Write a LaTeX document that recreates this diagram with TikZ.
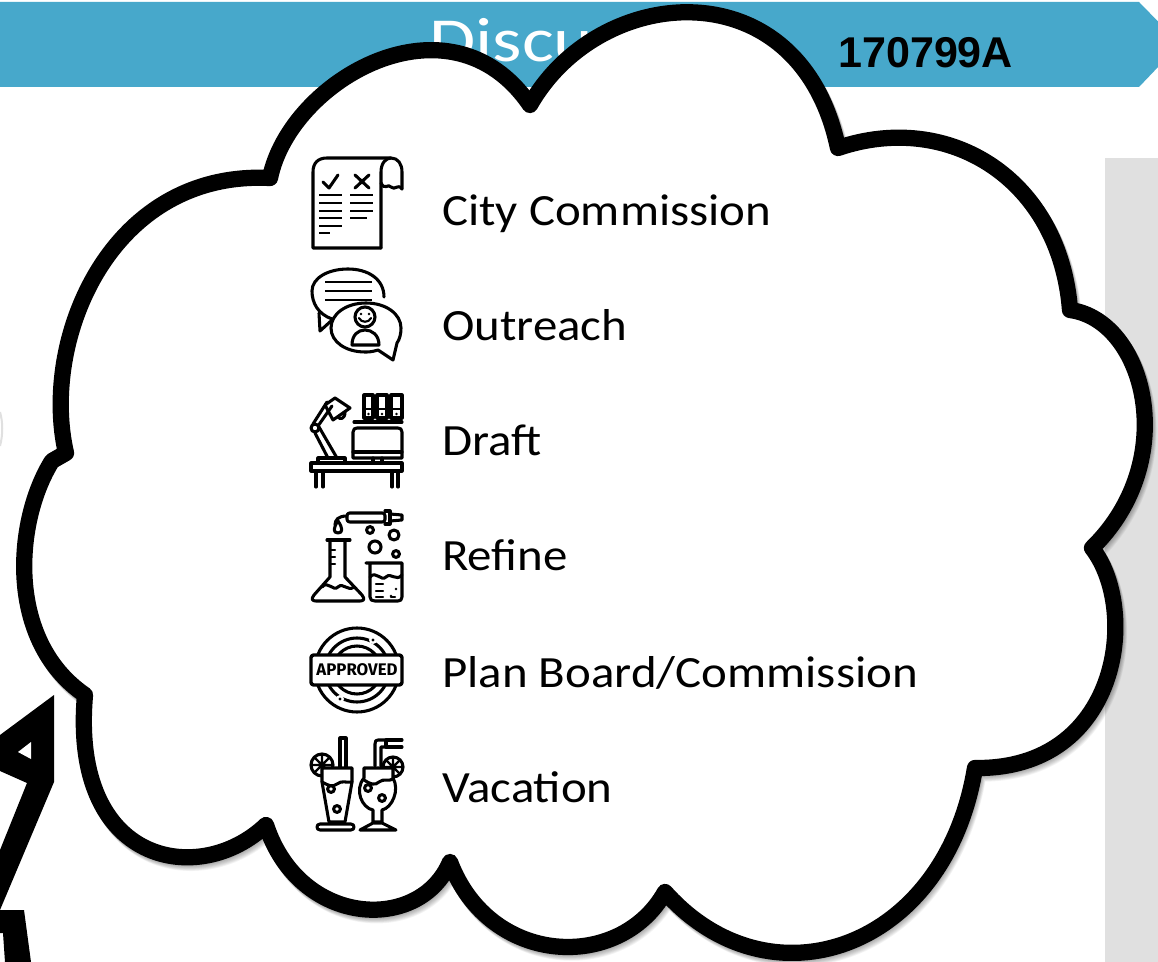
\documentclass[tikz,border=0pt]{standalone}
\usepackage{fontspec}
\setmainfont{Carlito}
\newfontfamily\labf[FakeStretch=1.095]{Carlito}
\newfontfamily\headf[FakeStretch=1.2]{Carlito}
\newfontfamily\arialf{Liberation Sans}
\newfontfamily\stampf{Fira Sans}
\tikzset{
 x=0.75pt,y=-0.75pt,
 ic/.style={draw=black,line width=2.3pt,line cap=round,line join=round},
 ict/.style={draw=black,line width=1.6pt,line cap=round,line join=round},
 bar/.style={draw=black,line width=2.1pt,line cap=butt},
 lab/.style={anchor=base west,font=\labf\fontsize{33.5}{33}\selectfont,text=black,inner sep=0pt},
}
\def\cloudpath{(66,453)
 .. controls (40,340) and (110,170) .. (270,178)
 .. controls (290,80) and (450,-12) .. (530,105)
 .. controls (600,-18) and (800,-33) .. (838,148)
 .. controls (950,110) and (1060,180) .. (1070,310)
 .. controls (1145,320) and (1182,460) .. (1092,548)
 .. controls (1140,610) and (1120,770) .. (975,768)
 .. controls (945,950) and (770,1010) .. (665,892)
 .. controls (620,972) and (490,967) .. (450,862)
 .. controls (420,933) and (300,928) .. (266,825)
 .. controls (200,888) and (70,866) .. (85,695)
 .. controls (5,640) and (15,520) .. (52,461) -- cycle}
\begin{document}
\begin{tikzpicture}
\path[use as bounding box,clip] (0,0) rectangle (1158,962);
\fill[white] (0,0) rectangle (1158,962);
% banner
\fill[fill={rgb,255:red,71;green,168;blue,203}] (0,2) -- (1139,2) -- (1180,44) -- (1139,87) -- (0,87) -- cycle;
\node[anchor=base west,inner sep=0pt,text=white,font=\headf\fontsize{47}{47}\selectfont] (disc) at (429,62) {Discus};
\node[anchor=base west,inner sep=0pt,text=black,font=\arialf\bfseries\fontsize{32.3}{33}\selectfont] (num) at (838,68) {170799A};
% grey panel
\fill[fill={rgb,255:red,224;green,224;blue,224}] (1105,158) rectangle (1158,962);
% black shape on the left
\fill[black] (0,735) -- (54,695) -- (54,782) -- (0,910) -- (0,850) -- (27,783) -- (0,771) -- cycle;
\fill[white] (18,752) -- (31,742) -- (31,759) -- cycle;
\fill[black] (0,910) -- (24,910) -- (31,962) -- (5,962) -- (3,933) -- (0,933) -- cycle;
\draw[black!12,line width=1.5pt] (0,412) .. controls (3,422) and (3,435) .. (0,446);
% cloud shadow
\foreach \d in {1,2,...,8}{
 \draw[black,opacity=0.045,line width=12.2pt,line cap=round,line join=round,shift={(\d*0.45,\d*0.7)}] \cloudpath;
}
% cloud
\draw[fill=white,draw=black,line width=12.2pt,line cap=round,line join=round] \cloudpath;
% labels
\node[lab] (l1) at (442,226) {City Commission};
\node[lab] (l2) at (442,341) {Outreach};
\node[lab] (l3) at (442,456) {Draft};
\node[lab] (l4) at (442,571) {Refine};
\node[lab] (l5) at (442,687) {Plan Board/Commission};
\node[lab] (l6) at (442,802) {Vacation};
% icon 1: document
\draw[ic] (381,248) -- (313,248) -- (313,172) .. controls (313,163) and (318,158) .. (327,158) -- (391,158) .. controls (398,158) and (402,164) .. (402,172) -- (402,189);
\draw[ic] (381,248) -- (381,172) .. controls (381,163) and (386,158) .. (391,158);
\draw[ic] (381,183) .. controls (385,191) and (388,183) .. (391,187) .. controls (395,191) and (398,183) .. (402,189);
\foreach \y in {195,203,211,218,226} \draw[bar] (319,\y) -- (342,\y);
\draw[bar] (319,233) -- (330,233);
\foreach \y in {195,203,211} \draw[bar] (350,\y) -- (373,\y);
\draw[bar] (350,218) -- (367,218);
\draw[ic] (323,182) -- (329,188) -- (338,175);
\draw[ic] (355,175) -- (369,188) (369,175) -- (355,188);
% icon 2: chat
\draw[ic] (332,319) .. controls (318,314) and (312,303) .. (312,291) .. controls (312,278) and (328,269) .. (348,269) .. controls (368,269) and (384,279) .. (384,297);
\draw[ic] (319,313) -- (320,331) -- (331,321);
\foreach \y in {282,291,300} \draw[bar] (325,\y) -- (372,\y);
\draw[ic,fill=white] (378,350) .. controls (372,352) and (368,352) .. (365,352) .. controls (346,352) and (331,342) .. (331,328) .. controls (331,314) and (346,303) .. (366,303) .. controls (386,303) and (401,314) .. (401,328) .. controls (401,333) and (400,339) .. (397,343) -- (393,360) -- cycle;
\draw[ic] (365,317) circle[radius=10];
\draw[ict] (359,318) .. controls (361,323) and (369,323) .. (371,318);
\fill (361,314) circle[radius=1.3] (369,314) circle[radius=1.3];
\draw[ic] (352,345) .. controls (352,335) and (358,330) .. (365,330) .. controls (372,330) and (379,335) .. (379,345) -- cycle;
% icon 3: desk
\draw[ic] (311,463) rectangle (402,471);
\draw[ic] (316,471) -- (316,487) (323,471) -- (323,487) (392,471) -- (392,487) (398,471) -- (398,487);
\draw[ic] (318,462) -- (318,458) -- (345,458) -- (345,462);
\draw[ic] (328,458) -- (315,433) (337,458) -- (319,427);
\draw[ic] (315,428) circle[radius=4];
\draw[ic] (313,424) -- (327,402) (318,426) -- (332,406);
\draw[ic] (325,405) -- (335,398) -- (350,408) -- (333,420) -- cycle;
\draw[ic] (338,417) .. controls (340,420) and (345,419) .. (345,412);
\foreach \a/\b in {364/373,377/387,391/402}{
 \draw[ic] (\a,395) rectangle (\b,418);
 \draw[ict] (\a,409) -- (\b,409);
}
\foreach \x in {368.5,382,396.5} \fill (\x,414) circle[radius=1.4];
\draw[ic] (354,422) -- (402,422);
\draw[ic] (353,432) .. controls (353,429) and (355,428) .. (357,428) -- (398,428) .. controls (400,428) and (402,429) .. (402,432) -- (402,458) -- (353,458) -- cycle;
\draw[ic] (353,452) -- (402,452);
\draw[ic] (373,458) -- (373,463) (382,458) -- (382,463);
% icon 4: lab
\draw[ic,rounded corners=2pt] (347,513) -- (385,513) -- (385,522) -- (347,522) -- cycle;
\draw[ic] (385,511) -- (390,511) -- (390,524) -- (385,524);
\draw[ic] (390,514) -- (402,515) -- (402,520) -- (390,521);
\draw[ic] (347,516) .. controls (338,516) and (335,520) .. (335,525);
\draw[ic] (338,521) .. controls (333,528) and (333,533) .. (338,533) .. controls (343,533) and (343,528) .. (338,521) -- cycle;
\draw[ic] (370,530) circle[radius=3.4] (394,535) circle[radius=5] (375,547) circle[radius=6] (396,554) circle[radius=3.4];
\draw[ic] (327,540) -- (350,540);
\draw[ic] (330,540) -- (330,577) -- (314,595) .. controls (311,599) and (312,601) .. (316,601) -- (360,601) .. controls (364,601) and (365,599) .. (362,595) -- (345,577) -- (345,540);
\draw[ic] (322,587) .. controls (328,580) and (333,592) .. (338,587) .. controls (343,582) and (348,592) .. (354,587);
\draw[ict] (330,550) -- (335,550) (330,557) -- (335,557) (330,564) -- (335,564);
\draw[ic] (366,563) -- (402,563) -- (402,597) .. controls (402,600) and (400,601) .. (398,601) -- (375,601) .. controls (372,601) and (370,600) .. (370,597) -- (370,565);
\draw[ic] (370,577) .. controls (376,570) and (381,582) .. (386,577) .. controls (391,572) and (396,582) .. (402,575);
\draw[ict] (376,584) -- (383,584) (376,591) -- (383,591) (376,597) -- (383,597) (391,597) -- (395,597);
\fill (396,589) circle[radius=1.3] (391,596) circle[radius=1.3];
% icon 5: stamp
\draw[ic] (357,670) circle[radius=42];
\draw[ic] (357,670) circle[radius=32];
\draw[ic] (357,670) circle[radius=24];
\fill[white] (373,640) circle[radius=4] (340,699) circle[radius=4];
\fill (373,640) circle[radius=1.7] (340,699) circle[radius=1.7];
\draw[ic,fill=white,rounded corners=2pt,line width=2.6pt] (311,655) rectangle (402,685);
\node[inner sep=0pt,font=\stampf\bfseries\fontsize{12.6}{12}\selectfont] (stamp) at (357,670) {APPROVED};
% icon 6: drinks
\draw[ic] (340,767) -- (340,738) -- (346,738) -- (346,767);
\draw[ic] (322,765) circle[radius=11];
\draw[ict] (322,754) -- (322,776) (311,765) -- (333,765) (314,757) -- (330,773) (330,757) -- (314,773);
\draw[ic,fill=white] (322,768) -- (352,768) -- (352,782) -- (345,822) -- (329,822) -- (322,782) -- cycle;
\draw[ic] (322,782) .. controls (328,785) and (332,788) .. (337,784) .. controls (342,780) and (346,783) .. (352,782);
\draw[ic] (331,789) circle[radius=3.4] (337,809) circle[radius=3.4];
\draw[ic] (320,824) -- (351,824) .. controls (355,824) and (355,830) .. (351,830) -- (320,830) .. controls (316,830) and (316,824) .. (320,824) -- cycle;
\draw[ic] (375,766) -- (375,744) .. controls (375,741) and (376,740) .. (378,740) -- (386,740) (381,766) -- (381,747) -- (386,747);
\draw[ic] (386,740) -- (386,747) (386,747) -- (402,747) (386,740) -- (402,740);
\draw[ic] (393,767) circle[radius=10];
\draw[ict] (393,757) -- (393,777) (383,767) -- (403,767) (386,760) -- (400,774) (400,760) -- (386,774);
\draw[ic,fill=white] (364,768) -- (393,768) -- (393,778) .. controls (400,790) and (392,808) .. (382,810) -- (382,822) -- (373,822) -- (373,810) .. controls (362,808) and (354,790) .. (364,778) -- cycle;
\draw[ic] (364,780) .. controls (370,784) and (375,786) .. (379,782) .. controls (384,778) and (388,782) .. (393,779);
\draw[ic] (368,788) circle[radius=3.4] (382,798) circle[radius=3.4];
\draw[ic] (360,830) -- (373,823) -- (382,823) -- (396,830) -- cycle;
\end{tikzpicture}
\end{document}
